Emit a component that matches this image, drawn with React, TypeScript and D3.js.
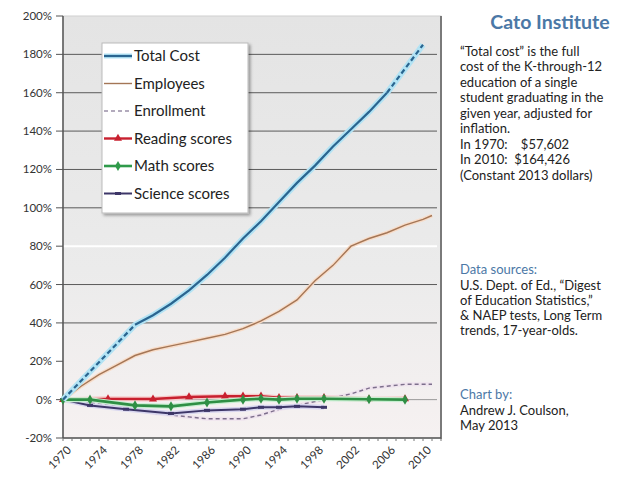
import React from "react";
import * as d3 from "d3";

const yTicks = [-20, 0, 20, 40, 60, 80, 100, 120, 140, 160, 180, 200];
const xLabelYears = [1970, 1974, 1978, 1982, 1986, 1990, 1994, 1998, 2002, 2006, 2010];

const costYears = [1970, 1978, 1980, 1982, 1984, 1986, 1988, 1990, 1992, 1994, 1996, 1998, 2000, 2002, 2004, 2006, 2010];
const costVals = [0, 39, 44, 50, 57, 65, 74, 84, 93, 103, 113, 122, 132, 141, 150, 160, 185];

const empYears = [1970, 1972, 1974, 1976, 1978, 1980, 1982, 1984, 1986, 1988, 1990, 1992, 1994, 1996, 1998, 2000, 2002, 2004, 2006, 2008, 2010, 2011];
const empVals = [0, 7, 13, 18, 23, 26, 28, 30, 32, 34, 37, 41, 46, 52, 62, 70, 80, 84, 87, 91, 94, 96];

const enrYears = [1970, 1972, 1975, 1978, 1980, 1982, 1984, 1986, 1988, 1990, 1992, 1994, 1996, 1998, 2000, 2002, 2004, 2006, 2008, 2011];
const enrVals = [0, -1, -3, -5, -7, -8, -9, -10, -10, -10, -8, -5, -3, -1, 1, 3, 6, 7, 8, 8];

const readYears = [1970, 1975, 1980, 1984, 1988, 1990, 1992, 1994, 1996, 1999, 2004, 2008];
const readVals = [0, 0.4, 0.3, 1.4, 1.8, 1.8, 1.8, 1.0, 1.0, 1.0, 0.2, 0.4];

const mathYears = [1970, 1973, 1978, 1982, 1986, 1990, 1992, 1994, 1996, 1999, 2004, 2008];
const mathVals = [0, 0, -3, -3.5, -1.5, 0, 0.5, 0, 0.5, 0.5, 0.2, 0];

const sciYears = [1970, 1973, 1977, 1982, 1986, 1990, 1992, 1994, 1996, 1999];
const sciVals = [0, -3, -5, -7.2, -5.6, -5, -4, -4, -3.5, -4];

const legendItems = ["Total Cost", "Employees", "Enrollment", "Reading scores", "Math scores", "Science scores"];

const noteLines = [
  "\u201CTotal cost\u201D is the full",
  "cost of the K-through-12",
  "education of a single",
  "student graduating in the",
  "given year, adjusted for",
  "inflation.",
  "In 1970:    $57,602",
  "In 2010:  $164,426",
  "(Constant 2013 dollars)",
];
const sourceLines = [
  "U.S. Dept. of Ed., \u201CDigest",
  "of Education Statistics,\u201D",
  "& NAEP tests, Long Term",
  "trends, 17-year-olds.",
];
const byLines = ["Andrew J. Coulson,", "May 2013"];

const W = 642;
const H = 483;
const L = 63, R = 441, T = 16, B = 438;
const font = "Lato, 'Open Sans', sans-serif";

export default function App() {
  const x = d3.scaleLinear().domain([1970, 2012]).range([L, R]);
  const y = d3.scaleLinear().domain([-20, 200]).range([B, T]);
  const line = d3.line<[number, number]>().x((d) => x(d[0])).y((d) => y(d[1]));
  const zip = (a: number[], b: number[]) => a.map((v, i) => [v, b[i]] as [number, number]);

  const cost = zip(costYears, costVals);
  const costStart = cost.slice(0, 2);
  const costMid = cost.slice(1, cost.length - 1);
  const costEnd = cost.slice(cost.length - 2);

  const emp = zip(empYears, empVals);
  const enr = zip(enrYears, enrVals);
  const read = zip(readYears, readVals);
  const math = zip(mathYears, mathVals);
  const sci = zip(sciYears, sciVals);

  const allYears = d3.range(1970, 2013);
  const tri = d3.symbol().type(d3.symbolTriangle).size(28)() as string;
  const dia = d3.symbol().type(d3.symbolDiamond).size(30)() as string;

  const gridStyle = (t: number) => {
    if (t === 20 || t === -20 || t === 200) return null;
    if (t === 80) return { stroke: "#ffffff", w: 2 };
    if (t === 0) return { stroke: "#9a9a9a", w: 1 };
    return { stroke: "#5a5a5a", w: 1 };
  };

  const legendY0 = 56;
  const legendStep = 27.5;
  const noteSize = 13;

  return (
    <svg width={W} height={H} style={{ position: "absolute", left: 0, top: 0, background: "#fff" }}>
      <defs>
        <linearGradient id="bg" x1="0" y1="0" x2="0" y2="1">
          <stop offset="0" stopColor="#e4e4e4" />
          <stop offset="0.6" stopColor="#ebebeb" />
          <stop offset="1" stopColor="#f6f1f1" />
        </linearGradient>
        <filter id="sh" x="-10%" y="-10%" width="130%" height="130%">
          <feDropShadow dx="2" dy="2" stdDeviation="1.5" floodColor="#000" floodOpacity="0.35" />
        </filter>
      </defs>
      <rect x={0} y={0} width={W} height={H} fill="#fff" />
      {/* plot area */}
      <rect x={L} y={T} width={R - L} height={B - T} fill="url(#bg)" stroke="#cfcfcf" strokeWidth={1} />
      <line x1={R} x2={R} y1={T} y2={B + 1} stroke="#7a7a7a" strokeWidth={2} />

      {/* gridlines */}
      {yTicks.map((t) => {
        const s = gridStyle(t);
        return s ? (
          <line key={"g" + t} x1={L} x2={R - 4} y1={y(t)} y2={y(t)} stroke={s.stroke} strokeWidth={s.w} />
        ) : null;
      })}

      {/* y axis */}
      <line x1={L} x2={L} y1={T} y2={B} stroke="#555" strokeWidth={1.5} />
      {yTicks.map((t) => (
        <g key={"y" + t}>
          <line x1={L - 7} x2={L} y1={y(t)} y2={y(t)} stroke="#555" strokeWidth={1} />
          <text x={L - 11} y={y(t)} dy="0.35em" textAnchor="end" fontFamily={font} fontSize={11.5} fill="#333">
            {t + "%"}
          </text>
        </g>
      ))}

      {/* x axis */}
      <line x1={L} x2={R} y1={B} y2={B} stroke="#555" strokeWidth={1.5} />
      {allYears.map((yr) => (
        <line key={"xt" + yr} x1={x(yr)} x2={x(yr)} y1={B} y2={B + 3} stroke="#777" strokeWidth={1} />
      ))}
      {xLabelYears.map((yr) => (
        <text
          key={"xl" + yr}
          transform={`translate(${x(yr) + 6},${B + 10}) rotate(-45)`}
          textAnchor="end"
          dy="0.35em"
          fontFamily={font}
          fontSize={11.5}
          fill="#333"
        >
          {yr}
        </text>
      ))}

      {/* Enrollment */}
      <path d={line(enr) || ""} fill="none" stroke="#efe4ee" strokeWidth={4} />
      <path d={line(enr) || ""} fill="none" stroke="#7d6f8c" strokeWidth={1.4} strokeDasharray="4,3" />

      {/* Science */}
      <path d={line(sci) || ""} fill="none" stroke="#d8d6ef" strokeWidth={5} />
      <path d={line(sci) || ""} fill="none" stroke="#3d3668" strokeWidth={2} />
      {sci.map((d, i) => (
        <rect key={"s" + i} x={x(d[0]) - 3} y={y(d[1]) - 1.5} width={6} height={3} fill="#3d3668" />
      ))}

      {/* Reading */}
      <path d={line(read) || ""} fill="none" stroke="#f6c8c8" strokeWidth={5} />
      <path d={line(read) || ""} fill="none" stroke="#c8202f" strokeWidth={2.4} />
      {read.map((d, i) => (
        <path key={"r" + i} d={tri} transform={`translate(${x(d[0])},${y(d[1])})`} fill="#c8202f" />
      ))}

      {/* Math */}
      <path d={line(math) || ""} fill="none" stroke="#c6efd0" strokeWidth={5} />
      <path d={line(math) || ""} fill="none" stroke="#2f8f45" strokeWidth={2.6} />
      {math.map((d, i) => (
        <path key={"m" + i} d={dia} transform={`translate(${x(d[0])},${y(d[1])})`} fill="#2f8f45" />
      ))}

      {/* Employees */}
      <path d={line(emp) || ""} fill="none" stroke="#f8dcc8" strokeWidth={4} />
      <path d={line(emp) || ""} fill="none" stroke="#a47656" strokeWidth={1.4} />

      {/* Total cost */}
      <path d={line(cost) || ""} fill="none" stroke="#b3e3f4" strokeWidth={6} />
      <path d={line(costStart) || ""} fill="none" stroke="#2a6590" strokeWidth={2.2} strokeDasharray="5,3" />
      <path d={line(costMid) || ""} fill="none" stroke="#2a6590" strokeWidth={2.2} />
      <path d={line(costEnd) || ""} fill="none" stroke="#2a6590" strokeWidth={2.2} strokeDasharray="5,3" />

      {/* legend */}
      <rect x={102} y={43} width={146} height={170} fill="#fff" stroke="#bbb" strokeWidth={1} filter="url(#sh)" />
      {legendItems.map((name, i) => {
        const ly = legendY0 + i * legendStep;
        const x1 = 104, x2 = 132, cx = (x1 + x2) / 2;
        let sample: React.ReactNode = null;
        if (i === 0)
          sample = (
            <g>
              <line x1={x1} x2={x2} y1={ly} y2={ly} stroke="#b3e3f4" strokeWidth={5} />
              <line x1={x1} x2={x2} y1={ly} y2={ly} stroke="#2a6590" strokeWidth={2.2} />
            </g>
          );
        else if (i === 1) sample = <line x1={x1} x2={x2} y1={ly} y2={ly} stroke="#a47656" strokeWidth={1.4} />;
        else if (i === 2)
          sample = <line x1={x1} x2={x2} y1={ly} y2={ly} stroke="#9a90a8" strokeWidth={1.4} strokeDasharray="4,3" />;
        else if (i === 3)
          sample = (
            <g>
              <line x1={x1} x2={x2} y1={ly} y2={ly} stroke="#c8202f" strokeWidth={2.4} />
              <path d={tri} transform={`translate(${cx},${ly})`} fill="#c8202f" />
            </g>
          );
        else if (i === 4)
          sample = (
            <g>
              <line x1={x1} x2={x2} y1={ly} y2={ly} stroke="#2f9a4a" strokeWidth={2.6} />
              <path d={dia} transform={`translate(${cx},${ly})`} fill="#2f9a4a" />
            </g>
          );
        else
          sample = (
            <g>
              <line x1={x1} x2={x2} y1={ly} y2={ly} stroke="#3d3668" strokeWidth={2} />
              <rect x={cx - 3} y={ly - 1.5} width={6} height={3} fill="#3d3668" />
            </g>
          );
        return (
          <g key={"lg" + i}>
            {sample}
            <text x={134} y={ly} dy="0.35em" fontFamily={font} fontSize={15} fill="#222">
              {name}
            </text>
          </g>
        );
      })}

      {/* right-side notes */}
      <text x={550} y={22} dy="0.35em" textAnchor="middle" fontFamily={font} fontWeight="bold" fontSize={19.5} fill="#4b78a6">
        Cato Institute
      </text>
      {noteLines.map((s, i) => (
        <text key={"n" + i} x={460} y={51 + i * 15.5} dy="0.35em" fontFamily={font} fontSize={noteSize} fill="#222" style={{ whiteSpace: "pre" }}>
          {s}
        </text>
      ))}
      <text x={460} y={269} dy="0.35em" fontFamily={font} fontSize={noteSize} fill="#4b78a6">
        Data sources:
      </text>
      {sourceLines.map((s, i) => (
        <text key={"so" + i} x={460} y={285 + i * 15} dy="0.35em" fontFamily={font} fontSize={noteSize} fill="#222">
          {s}
        </text>
      ))}
      <text x={460} y={394} dy="0.35em" fontFamily={font} fontSize={noteSize} fill="#4b78a6">
        Chart by:
      </text>
      {byLines.map((s, i) => (
        <text key={"b" + i} x={460} y={410 + i * 15} dy="0.35em" fontFamily={font} fontSize={noteSize} fill="#222">
          {s}
        </text>
      ))}
    </svg>
  );
}
